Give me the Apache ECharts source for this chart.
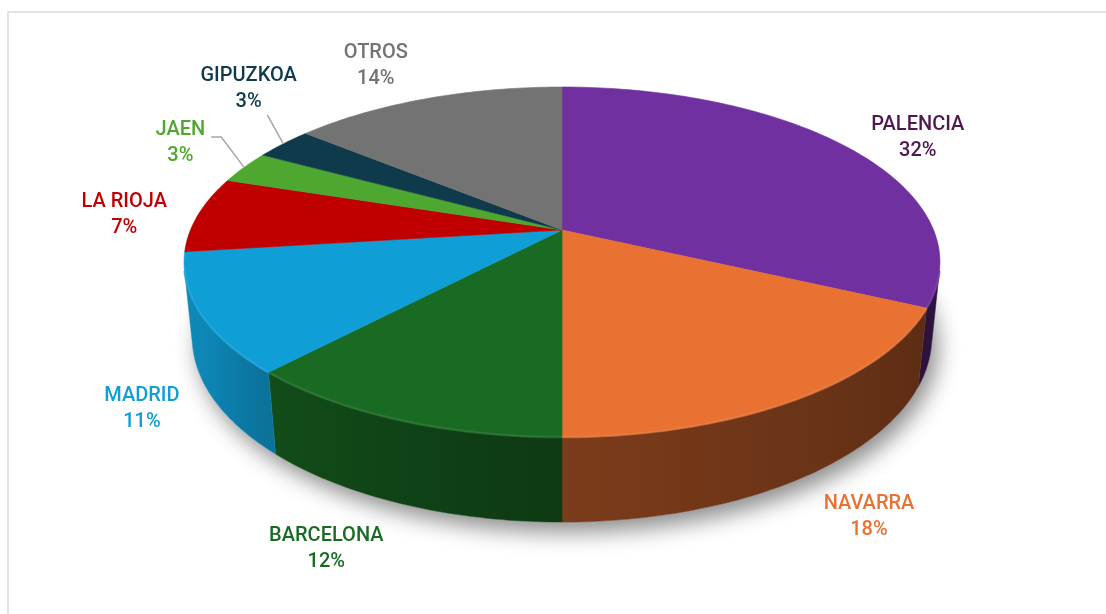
<!DOCTYPE html>
<html>
<head>
<meta charset="utf-8">
<style>
html, body { margin: 0; padding: 0; background: #fff; }
#chart { width: 1106px; height: 614px; }
</style>
<script src="https://cdn.jsdelivr.net/npm/echarts@6/dist/echarts.min.js"></script>
</head>
<body>
<div id="chart"></div>
<script>
const categories = ["PALENCIA", "NAVARRA", "BARCELONA", "MADRID", "LA RIOJA", "JAEN", "GIPUZKOA", "OTROS"];
const values = [32, 18, 12, 11, 7, 3, 3, 14];
const sliceColors = ["#7030A0", "#E97132", "#196B24", "#0F9ED5", "#C00000", "#4EA72E", "#0E3A4B", "#737373"];
const labelColors = ["#50184E", "#E97132", "#196B24", "#0F9ED5", "#C00000", "#4EA72E", "#0E3A4B", "#737373"];
// labels were dragged by hand in the original, these are the moves in px
const labelNudge = [[24, 4], [27, -4], [-39, 1], [3, -1], [-10, 3], [-11, -14], [10, -41], [-30, -13]];

// tilted disc seen in perspective
const view = { cx: 562, cy: 230, f: 1808, dist: 4.866, sinA: 0.4553, cosA: 0.8904, depth: 0.2288 };
// side wall brightness along the front (angle in deg -> factor)
const wallLight = [[-180, 0.9], [-150, 0.85], [-133, 0.72], [-90, 0.53], [-25, 0.39], [0, 0.45]];

const total = values.reduce((a, b) => a + b, 0);
const starts = [];
let acc = 0;
values.forEach(v => { starts.push(acc); acc += v; });

function proj(X, Z, H) {
	const yc = H * view.cosA + Z * view.sinA;
	const zc = view.dist + Z * view.cosA - H * view.sinA;
	return [view.cx + view.f * X / zc, view.cy - view.f * yc / zc];
}
function pt(deg, r, H) {
	const a = deg * Math.PI / 180;
	return proj(r * Math.cos(a), r * Math.sin(a), H);
}
function arc(from, to, r, H) {
	const out = [];
	const n = Math.max(2, Math.ceil(Math.abs(to - from)));
	for (let i = 0; i <= n; i++) out.push(pt(from + (to - from) * i / n, r, H));
	return out;
}
function shade(hex, k) {
	const n = parseInt(hex.slice(1), 16);
	const r = Math.min(255, Math.round(((n >> 16) & 255) * k));
	const g = Math.min(255, Math.round(((n >> 8) & 255) * k));
	const b = Math.min(255, Math.round((n & 255) * k));
	return "rgb(" + r + "," + g + "," + b + ")";
}
function lighten(hex, t) {
	const n = parseInt(hex.slice(1), 16);
	const c = [(n >> 16) & 255, (n >> 8) & 255, n & 255].map(v => Math.round(v + (255 - v) * t));
	return "rgb(" + c.join(",") + ")";
}
function lightAt(deg) {
	for (let i = 1; i < wallLight.length; i++) {
		if (deg <= wallLight[i][0]) {
			const p = wallLight[i - 1], q = wallLight[i];
			return p[1] + (q[1] - p[1]) * (deg - p[0]) / (q[0] - p[0]);
		}
	}
	return wallLight[wallLight.length - 1][1];
}

const measureCtx = document.createElement("canvas").getContext("2d");
const labelFont = { fontFamily: "Roboto", fontSize: 20, fontWeight: 500, lineHeight: 26 };
measureCtx.font = labelFont.fontWeight + " " + labelFont.fontSize + "px " + labelFont.fontFamily;

const lim = Math.asin(1 / (view.dist * view.cosA)) * 180 / Math.PI;

function renderSlice(params, api) {
	const i = params.dataIndex;
	const v = api.value(0);
	const a0 = 90 - 360 * starts[i] / total;
	const a1 = 90 - 360 * (starts[i] + v) / total;
	const color = sliceColors[i];
	const children = [];

	if (i === 0) {
		children.push({
			type: "polygon",
			z2: 0,
			shape: { points: arc(0, 360, 1, -view.depth) },
			style: { fill: "#fff", shadowBlur: 22, shadowColor: "rgba(0,0,0,0.45)", shadowOffsetX: 6, shadowOffsetY: 10 }
		});
	}

	const lo = Math.max(a1, -180 + lim);
	const hi = Math.min(a0, -lim);
	if (lo < hi) {
		const top = arc(lo, hi, 1, 0);
		const bot = arc(lo, hi, 1, -view.depth).reverse();
		const poly = top.concat(bot);
		const xs = poly.map(p => p[0]);
		const xmin = Math.min.apply(null, xs), xmax = Math.max.apply(null, xs);
		const stops = [];
		const n = Math.max(2, Math.ceil((hi - lo) / 4));
		for (let k = 0; k <= n; k++) {
			const d = lo + (hi - lo) * k / n;
			const x = pt(d, 1, 0)[0];
			stops.push({ offset: Math.min(1, Math.max(0, (x - xmin) / (xmax - xmin))), color: shade(color, lightAt(d)) });
		}
		children.push({
			type: "polygon",
			z2: 1,
			shape: { points: poly },
			style: { fill: new echarts.graphic.LinearGradient(0, 0, 1, 0, stops), stroke: shade(color, lightAt((lo + hi) / 2)), lineWidth: 0.5 }
		});
		children.push({
			type: "polyline",
			z2: 3,
			shape: { points: top },
			style: { stroke: lighten(color, 0.12), lineWidth: 2.5, opacity: 0.6, fill: null }
		});
	}

	children.push({
		type: "polygon",
		z2: 2,
		shape: { points: [[view.cx, view.cy]].concat(arc(a0, a1, 1, 0)) },
		style: { fill: color, stroke: color, lineWidth: 0.6 }
	});

	// data label
	const mid = (a0 + a1) / 2;
	const plane = Math.sin(mid * Math.PI / 180) < 0 ? -view.depth : 0;
	const anchor = pt(mid, 1.18, plane);
	const lx = anchor[0] + labelNudge[i][0];
	const ly = anchor[1] + labelNudge[i][1];
	const pct = Math.round(v / total * 100) + "%";
	children.push({
		type: "text",
		z2: 5,
		x: lx,
		y: ly,
		style: {
			text: categories[i] + "\n" + pct,
			fill: labelColors[i],
			fontFamily: labelFont.fontFamily,
			fontSize: labelFont.fontSize,
			fontWeight: labelFont.fontWeight,
			lineHeight: labelFont.lineHeight,
			align: "center",
			verticalAlign: "middle"
		}
	});

	if (v / total < 0.05) {
		const edge = pt(mid, 1, 0);
		const w = Math.max(measureCtx.measureText(categories[i]).width, measureCtx.measureText(pct).width);
		const right = lx + w / 2, bottom = ly + labelFont.lineHeight;
		let pts;
		if (edge[0] > right + 8) {
			pts = [[right + 6, ly - 6], [right + 16, ly - 6], edge];
		} else {
			pts = [[edge[0] - 16, bottom], edge];
		}
		children.push({
			type: "polyline",
			z2: 4,
			shape: { points: pts },
			style: { stroke: "#A6A6A6", lineWidth: 1.5, fill: null }
		});
	}

	return { type: "group", children: children };
}

const chart = echarts.init(document.getElementById("chart"));
chart.setOption({
	animation: false,
	graphic: [{
		type: "rect",
		shape: { x: 8, y: 12, width: 1120, height: 620 },
		style: { fill: null, stroke: "#D9D9D9", lineWidth: 1.5 },
		silent: true
	}],
	series: [{
		type: "custom",
		coordinateSystem: "none",
		renderItem: renderSlice,
		data: values.map(v => [v])
	}]
});
window.addEventListener("resize", () => chart.resize());
</script>
</body>
</html>
